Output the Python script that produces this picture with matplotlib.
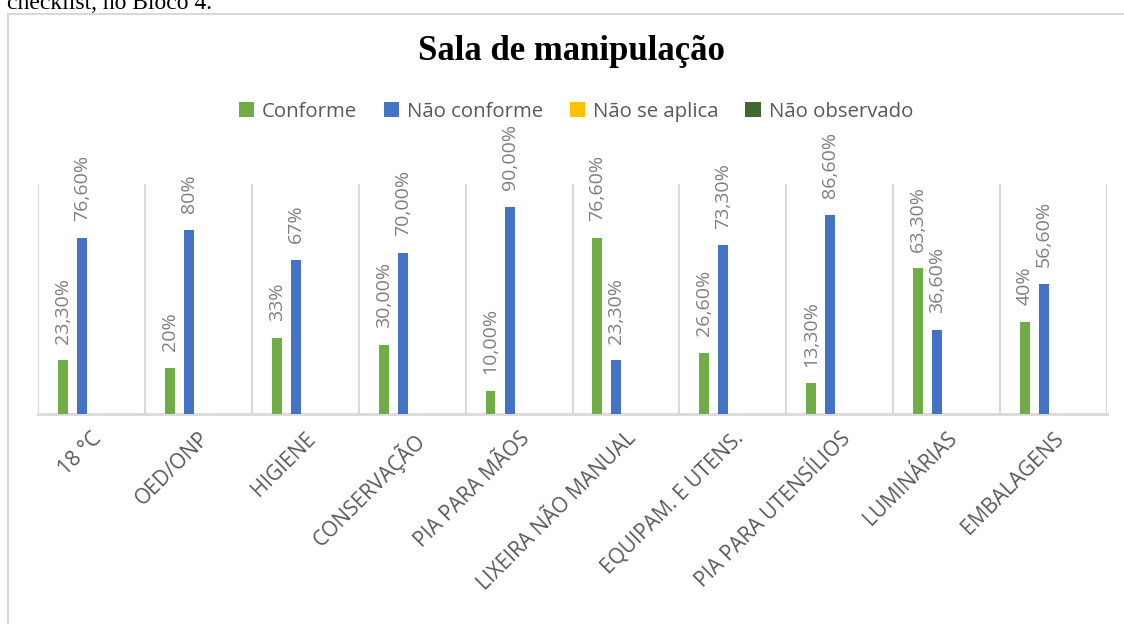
import numpy as np
import matplotlib.pyplot as plt
from matplotlib.patches import Rectangle

# data
categories = ["18 °C", "OED/ONP", "HIGIENE", "CONSERVAÇÃO", "PIA PARA MÃOS",
              "LIXEIRA NÃO MANUAL", "EQUIPAM. E UTENS.", "PIA PARA UTENSÍLIOS",
              "LUMINÁRIAS", "EMBALAGENS"]
series_names = ["Conforme", "Não conforme", "Não se aplica", "Não observado"]
conforme = [0.233, 0.20, 0.33, 0.30, 0.10, 0.766, 0.266, 0.133, 0.633, 0.40]
nao_conforme = [0.766, 0.80, 0.67, 0.70, 0.90, 0.233, 0.733, 0.866, 0.366, 0.566]
nao_se_aplica = [0] * 10
nao_observado = [0] * 10
conforme_labels = ["23,30%", "20%", "33%", "30,00%", "10,00%", "76,60%",
                   "26,60%", "13,30%", "63,30%", "40%"]
nao_conforme_labels = ["76,60%", "80%", "67%", "70,00%", "90,00%", "23,30%",
                       "73,30%", "86,60%", "36,60%", "56,60%"]
colors = ["#70AD47", "#4472C4", "#FFC000", "#43682B"]

fig = plt.figure(figsize=(11.24, 6.24), dpi=100)

# piece of the document text above the chart, cut by the screenshot
fig.text(7 / 1124, 1 - 9 / 624, "checklist, no Bloco 4.", family="Liberation Serif",
         fontsize=17, ha="left", va="baseline")

# chart frame
fig.patches.append(Rectangle((8 / 1124, -0.1), 1.2, 1 - 14 / 624 + 0.1,
                             transform=fig.transFigure, fill=False,
                             edgecolor="#d9d9d9", lw=1.5))

ax = fig.add_axes([38 / 1124, 1 - 414 / 624, (1107 - 38) / 1124, (414 - 184) / 624])

x = np.arange(len(categories))
slot = 0.178
width = 0.093
values = [conforme, nao_conforme, nao_se_aplica, nao_observado]
labels = [conforme_labels, nao_conforme_labels, None, None]
for i, (vals, name, col) in enumerate(zip(values, series_names, colors)):
    bars = ax.bar(x + (i - 1.5) * slot, vals, width, color=col, label=name, zorder=3)
    if labels[i] is not None:
        for b, lab in zip(bars, labels[i]):
            ax.annotate(lab, (b.get_x() + b.get_width() / 2, b.get_height()),
                        xytext=(0, 12), textcoords="offset points", rotation=90,
                        ha="center", va="bottom", color="#7f7f7f",
                        family="Open Sans", fontsize=14)

ax.set_xlim(-0.5, len(categories) - 0.5)
ax.set_ylim(0, 1)
ax.set_xticks(x)
ax.set_xticklabels(categories, rotation=45, ha="right", va="top",
                   rotation_mode="anchor", family="Open Sans", fontsize=15,
                   color="#595959")
ax.tick_params(axis="x", length=0, pad=10)
ax.set_xticks(np.arange(-0.5, len(categories)), minor=True)
ax.tick_params(axis="x", which="minor", length=0)
ax.grid(which="minor", axis="x", color="#d9d9d9", lw=1.5, zorder=0)
ax.set_yticks([])
for s in ["top", "right", "left"]:
    ax.spines[s].set_visible(False)
ax.spines["bottom"].set_color("#d9d9d9")
ax.spines["bottom"].set_linewidth(2)

fig.text(571 / 1124, 1 - 52 / 624, "Sala de manipulação", family="Liberation Serif",
         weight="bold", fontsize=25, ha="center", va="center")

fig.legend(loc="center", bbox_to_anchor=(576 / 1124, 1 - 112 / 624), ncol=4,
           frameon=False, prop={"family": "Open Sans", "size": 14.7},
           labelcolor="#595959", handlelength=0.75, handleheight=0.75,
           handletextpad=0.4, columnspacing=1.3)

fig.savefig("out.png", dpi=100)
